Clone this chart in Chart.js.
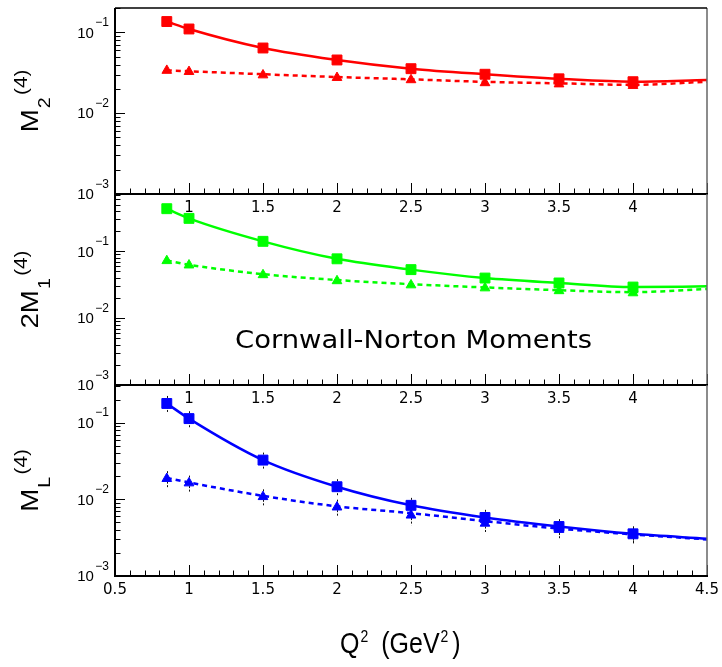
<!DOCTYPE html>
<html><head><meta charset="utf-8">
<script src="https://cdn.jsdelivr.net/npm/chart.js@4"></script>
<style>
html,body{margin:0;padding:0;background:#fff;}
#wrap{position:relative;width:722px;height:667px;overflow:hidden;background:#fff;}
#wrap canvas{position:absolute;left:0;top:0;}
</style></head><body>
<div id="wrap">
<canvas id="c1" width="722" height="667"></canvas>
<canvas id="c2" width="722" height="667"></canvas>
<canvas id="c3" width="722" height="667"></canvas>
</div>
<script>
// ---------- data ----------
const q2Points = [0.85, 1, 1.5, 2, 2.5, 3, 3.5, 4];
const q2Curve  = [0.85, 1, 1.5, 2, 2.5, 3, 3.5, 4, 4.5];

const m2SquareVals   = [0.136, 0.110, 0.064, 0.0455, 0.0355, 0.0303, 0.0266, 0.0245];
const m2TriangleVals = [0.0337, 0.0326, 0.0296, 0.0275, 0.0258, 0.0237, 0.0229, 0.0219];
const m2SolidCurve   = [0.136, 0.110, 0.064, 0.0455, 0.0355, 0.0303, 0.0266, 0.0245, 0.0257];
const m2DashedCurve  = [0.0338, 0.0330, 0.0303, 0.0280, 0.0262, 0.0244, 0.0234, 0.0224, 0.0245];

const m1SquareVals   = [0.434, 0.311, 0.141, 0.0772, 0.0532, 0.0398, 0.0336, 0.0292];
const m1TriangleVals = [0.0721, 0.0621, 0.0444, 0.0361, 0.0313, 0.0282, 0.0256, 0.0238];
const m1SolidCurve   = [0.434, 0.311, 0.141, 0.0772, 0.0532, 0.0398, 0.0336, 0.0292, 0.0299];
const m1DashedCurve  = [0.0730, 0.0630, 0.0455, 0.0372, 0.0322, 0.0288, 0.0262, 0.0245, 0.0273];

const mlSquareVals   = [0.178, 0.113, 0.0325, 0.0146, 0.00835, 0.0058, 0.00442, 0.00355];
const mlTriangleVals = [0.0186, 0.0163, 0.0108, 0.0079, 0.0062, 0.00486, 0.00403, 0.00344];
const mlSolidCurve   = [0.178, 0.113, 0.0325, 0.0146, 0.00835, 0.0058, 0.00442, 0.00355, 0.00307];
const mlDashedCurve  = [0.0190, 0.0166, 0.0111, 0.0081, 0.0066, 0.0052, 0.00415, 0.00349, 0.0030];
const mlSquareErr    = [0.045, 0.028, 0.0082, 0.0037, 0.0021, 0.0015, 0.0011, 0.0009];
const mlTriangleErr  = [0.0047, 0.0041, 0.0027, 0.0020, 0.0016, 0.0012, 0.0010, 0.00086];

const xTickLabelsInner = [1, 1.5, 2, 2.5, 3, 3.5, 4];
const xTickLabelsOuter = [0.5, 1, 1.5, 2, 2.5, 3, 3.5, 4, 4.5];
const yTickExponents   = [-3, -2, -1];
const xRange = [0.5, 4.5];
const yMin = 0.001;
const yMaxTop = 0.2, yMaxMid = 0.72, yMaxBot = 0.31;

// ---------- layout / style ----------
const W = 722, H = 667, LEFT = 115, RIGHT = 707;
const SANS = '"Liberation Sans", Arial, sans-serif';

function drawParts(ctx, parts, o) {
  ctx.save();
  ctx.translate(o.x, o.y);
  if (o.rot) ctx.rotate(o.rot);
  let total = 0;
  parts.forEach(p => { ctx.font = p.font; p._w = ctx.measureText(p.t).width; total += (p.gap || 0) + p._w; });
  let sx = o.sAlong || 1;
  if (o.fitWidth) sx = o.fitWidth / total;
  ctx.scale(sx, o.sPerp || 1);
  let cx = o.align === 'center' ? -total / 2 : 0;
  ctx.fillStyle = '#000'; ctx.textAlign = 'left'; ctx.textBaseline = 'alphabetic';
  parts.forEach(p => { cx += p.gap || 0; ctx.font = p.font; ctx.fillText(p.t, cx, p.dy || 0); cx += p._w; });
  ctx.restore();
}

function seg(ctx, x1, y1, x2, y2) { ctx.beginPath(); ctx.moveTo(x1, y1); ctx.lineTo(x2, y2); ctx.stroke(); }

function panelPlugin(cfg) {
  return {
    id: 'panel_' + cfg.id,
    beforeDatasetsDraw(chart) {
      if (!cfg.errors) return;
      const ctx = chart.ctx, xs = chart.scales.x, ys = chart.scales.y;
      ctx.save();
      ctx.strokeStyle = '#111'; ctx.lineWidth = 1; ctx.setLineDash([2, 1.5]);
      cfg.errors.forEach(pair => {
        const vals = pair[0], errs = pair[1];
        vals.forEach((v, i) => {
          const px = Math.round(xs.getPixelForValue(q2Points[i])) + 0.5;
          seg(ctx, px, ys.getPixelForValue(v + errs[i]), px, ys.getPixelForValue(v - errs[i]));
        });
      });
      ctx.restore();
    },
    afterDraw(chart) {
      const ctx = chart.ctx, a = chart.chartArea, xs = chart.scales.x, ys = chart.scales.y;
      ctx.save();
      // ticks on x (inside, pointing up)
      ctx.strokeStyle = '#000'; ctx.lineWidth = 1;
      for (let i = 5; i <= 45; i++) {
        const px = Math.round(xs.getPixelForValue(i / 10)) + 0.5;
        const len = (i % 5 === 0) ? 11 : 5.5;
        seg(ctx, px, a.bottom, px, a.bottom - len);
      }
      // ticks on y (inside, pointing right)
      for (let d = -3; d <= 0; d++) {
        for (let m = 1; m <= 9; m++) {
          const v = m * Math.pow(10, d);
          if (v < yMin * 0.999 || v > chart.options.scales.y.max * 1.001) continue;
          const py = Math.round(ys.getPixelForValue(v)) + 0.5;
          seg(ctx, a.left, py, a.left + (m === 1 ? 10 : 5.5), py);
        }
      }
      // frame
      ctx.strokeStyle = '#666'; ctx.lineWidth = 1.5;
      seg(ctx, a.right, a.top, a.right, a.bottom);
      ctx.strokeStyle = '#000'; ctx.lineWidth = 2;
      if (cfg.topLine) { ctx.lineWidth = 1.5; seg(ctx, a.left, a.top, a.right, a.top); ctx.lineWidth = 2; }
      seg(ctx, a.left, a.top, a.left, a.bottom + 1);
      seg(ctx, a.left - 1, a.bottom, a.right + 1, a.bottom);

      // x tick labels
      ctx.fillStyle = '#000';
      ctx.font = '15px "DejaVu Sans", sans-serif';
      ctx.textAlign = 'center'; ctx.textBaseline = 'middle';
      cfg.xLabels.forEach(v => {
        ctx.fillText(String(v), xs.getPixelForValue(v), a.bottom + cfg.xLabelGap);
      });
      // y tick labels 10^n
      yTickExponents.forEach(e => {
        const py = ys.getPixelForValue(Math.pow(10, e));
        const sup = '\u2212' + Math.abs(e);
        ctx.textAlign = 'left'; ctx.textBaseline = 'alphabetic';
        ctx.font = '12px ' + SANS;
        const sw = ctx.measureText(sup).width;
        const supLeft = a.left - 6 - sw;
        ctx.fillText(sup, supLeft, py - 6.3);
        ctx.font = '15px ' + SANS;
        const bw = ctx.measureText('10').width;
        ctx.fillText('10', supLeft - 1.5 - bw, py + 5.3);
      });
      // y title
      drawParts(ctx, cfg.yTitle, { x: 38, y: (a.top + a.bottom) / 2, rot: -Math.PI / 2, sAlong: 1.15, align: 'center' });
      if (cfg.extra) cfg.extra(ctx, a);
      ctx.restore();
    }
  };
}

function makePanel(canvasId, cfg) {
  const color = cfg.color;
  const pts = (xs, ys) => xs.slice(0, ys.length).map((x, i) => ({ x: x, y: ys[i] }));
  return new Chart(document.getElementById(canvasId), {
    type: 'scatter',
    data: {
      datasets: [
        { label: 'squares', data: pts(q2Points, cfg.sq), showLine: false,
          pointStyle: 'rect', pointRadius: 7, pointBackgroundColor: color, pointBorderColor: color, pointBorderWidth: 1 },
        { label: 'triangles', data: pts(q2Points, cfg.tri), showLine: false,
          pointStyle: 'triangle', pointRadius: 5.6, pointBackgroundColor: color, pointBorderColor: color, pointBorderWidth: 1 },
        { label: 'solid', data: pts(q2Curve, cfg.solid), showLine: true, pointRadius: 0,
          borderColor: color, borderWidth: 2.5, cubicInterpolationMode: 'monotone', fill: false },
        { label: 'dashed', data: pts(q2Curve, cfg.dashed), showLine: true, pointRadius: 0,
          borderColor: color, borderWidth: 2.5, borderDash: [5, 4], cubicInterpolationMode: 'monotone', fill: false }
      ]
    },
    options: {
      responsive: false, animation: false, devicePixelRatio: 1,
      layout: { padding: { left: LEFT, right: W - RIGHT, top: cfg.top, bottom: H - cfg.bottom } },
      plugins: { legend: { display: false }, tooltip: { enabled: false }, title: { display: false } },
      events: [],
      scales: {
        x: { type: 'linear', min: xRange[0], max: xRange[1], display: false },
        y: { type: 'logarithmic', min: yMin, max: cfg.ymax, display: false }
      }
    },
    plugins: [panelPlugin(cfg)]
  });
}

const supFont = '18px ' + SANS, subFont = '17px ' + SANS, mainFont = '24px ' + SANS;

makePanel('c1', {
  id: 1, top: 3, bottom: 194, ymax: yMaxTop, color: '#ff0000', topLine: true,
  sq: m2SquareVals, tri: m2TriangleVals, solid: m2SolidCurve, dashed: m2DashedCurve,
  xLabels: xTickLabelsInner, xLabelGap: 14.3,
  yTitle: [{ t: 'M', font: mainFont }, { t: '2', font: subFont, dy: 12, gap: 1 }, { t: '(4)', font: supFont, dy: -11, gap: 2 }]
});

makePanel('c2', {
  id: 2, top: 194, bottom: 385, ymax: yMaxMid, color: '#00ff00',
  sq: m1SquareVals, tri: m1TriangleVals, solid: m1SolidCurve, dashed: m1DashedCurve,
  xLabels: xTickLabelsInner, xLabelGap: 14,
  yTitle: [{ t: '2M', font: mainFont }, { t: '1', font: subFont, dy: 12, gap: 1 }, { t: '(4)', font: supFont, dy: -11, gap: 2 }],
  extra: (ctx, a) => {
    drawParts(ctx, [{ t: 'Cornwall-Norton Moments', font: '25px "DejaVu Sans", sans-serif' }], { x: 235, y: 348.3, fitWidth: 357 });
  }
});

makePanel('c3', {
  id: 3, top: 385, bottom: 576, ymax: yMaxBot, color: '#0000ff',
  sq: mlSquareVals, tri: mlTriangleVals, solid: mlSolidCurve, dashed: mlDashedCurve,
  errors: [[mlSquareVals, mlSquareErr], [mlTriangleVals, mlTriangleErr]],
  xLabels: xTickLabelsOuter, xLabelGap: 14.5,
  yTitle: [{ t: 'M', font: mainFont }, { t: 'L', font: subFont, dy: 12, gap: 1 }, { t: '(4)', font: supFont, dy: -11, gap: 2 }],
  extra: (ctx, a) => {
    drawParts(ctx, [
      { t: 'Q', font: '25px ' + SANS },
      { t: '2', font: '14px ' + SANS, dy: -9.7, gap: 1 },
      { t: '(GeV', font: '25px ' + SANS, gap: 13 },
      { t: '2', font: '14px ' + SANS, dy: -9.7, gap: 1 },
      { t: ')', font: '25px ' + SANS, gap: 4 }
    ], { x: 340, y: 653.3, sPerp: 1.2 });
  }
});
</script>
</body></html>
